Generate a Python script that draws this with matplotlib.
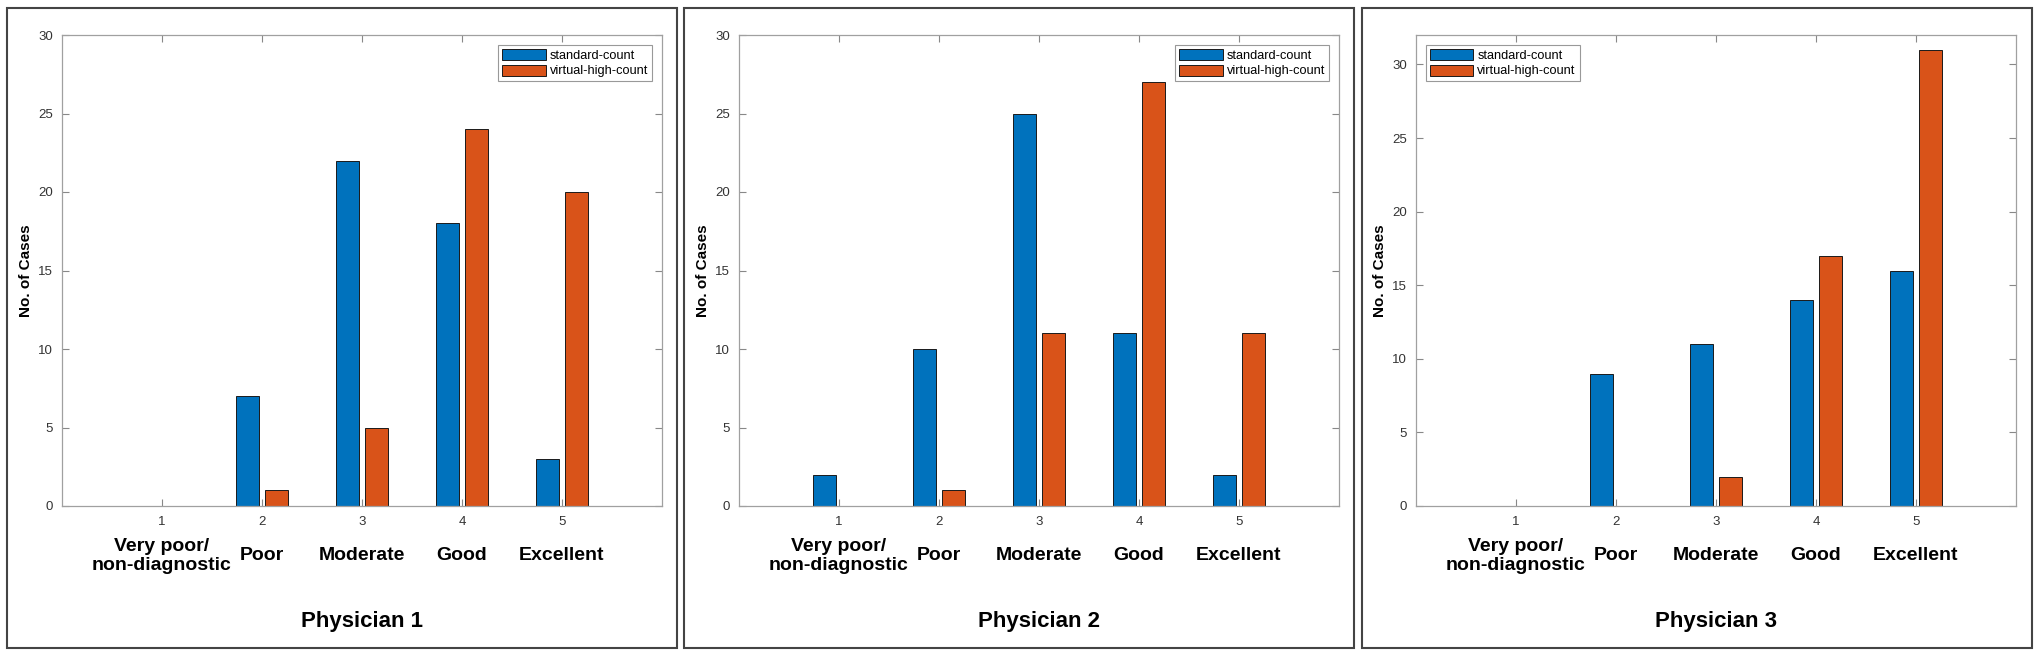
import matplotlib.pyplot as plt
import matplotlib.transforms as mtransforms
import numpy as np
from matplotlib.patches import Rectangle

# std = standard-count
# vhc = virtual-high-count

categories = ["Very poor/\nnon-diagnostic", "Poor", "Moderate", "Good", "Excellent"]
scores = [1, 2, 3, 4, 5]
physicians = ["Physician 1", "Physician 2", "Physician 3"]

std_1 = [0, 7, 22, 18, 3]
vhc_1 = [0, 1, 5, 24, 20]
std_2 = [2, 10, 25, 11, 2]
vhc_2 = [0, 1, 11, 27, 11]
std_3 = [0, 9, 11, 14, 16]
vhc_3 = [0, 0, 2, 17, 31]

y_max = [30, 30, 32]
legend_loc = ["upper right", "upper right", "upper left"]

blue = "#0072BD"
orange = "#D95319"

W, H = 2040, 659
plt.rcParams["font.family"] = ["Liberation Sans", "DejaVu Sans"]

# layout in pixels of the original picture
ax_left = [62, 739, 1416]
ax_top, ax_bottom, ax_w = 35, 506, 600
box_left = [7, 684, 1362]
box_w = 670
box_top, box_bottom = 8, 648


def draw_panel(fig, i, std, vhc):
    ax = fig.add_axes(
        [ax_left[i] / W, (H - ax_bottom) / H, ax_w / W, (ax_bottom - ax_top) / H]
    )
    x = np.array(scores)
    ax.bar(x - 0.145, std, width=0.23, color=blue, edgecolor="#1a1a1a",
           linewidth=0.7, label="standard-count")
    ax.bar(x + 0.145, vhc, width=0.23, color=orange, edgecolor="#1a1a1a",
           linewidth=0.7, label="virtual-high-count")
    ax.set_xlim(0, 6)
    ax.set_ylim(0, y_max[i])
    ax.set_xticks(scores)
    ax.set_yticks(range(0, 31, 5))
    ax.tick_params(direction="in", top=True, right=True, length=5, width=0.8,
                   color="#888888", labelsize=9.5, labelcolor="#333333")
    ax.tick_params(axis="x", pad=7.5)
    ax.tick_params(axis="y", pad=6.5)
    for s in ax.spines.values():
        s.set_color("#a0a0a0")
        s.set_linewidth(0.9)

    ax.set_ylabel("No. of Cases", fontsize=11, fontweight="bold")
    ax.yaxis.set_label_coords(-0.048, 0.5)

    trans = mtransforms.blended_transform_factory(ax.transData, fig.transFigure)
    for xi, cat in zip(scores, categories):
        ax.text(xi, (H - 556) / H, cat, transform=trans, ha="center", va="center",
                fontsize=14, fontweight="bold", linespacing=1.15)

    fig.text((ax_left[i] + ax_w / 2) / W, (H - 622) / H, physicians[i],
             ha="center", va="center", fontsize=16, fontweight="bold")

    leg = ax.legend(loc=legend_loc[i], fontsize=9.2, handlelength=3.4,
                    handleheight=0.95, handletextpad=0.3, labelspacing=0.2,
                    borderpad=0.3, borderaxespad=0.8, fancybox=False,
                    framealpha=1)
    leg.get_frame().set_edgecolor("#999999")
    leg.get_frame().set_linewidth(0.8)

    fig.patches.append(
        Rectangle((box_left[i] / W, (H - box_bottom) / H), box_w / W,
                  (box_bottom - box_top) / H, transform=fig.transFigure,
                  fill=False, edgecolor="#444444", linewidth=1.5)
    )
    return ax


fig = plt.figure(figsize=(W / 100, H / 100), dpi=100)
draw_panel(fig, 0, std_1, vhc_1)
draw_panel(fig, 1, std_2, vhc_2)
draw_panel(fig, 2, std_3, vhc_3)
fig.savefig("out.png", dpi=100, facecolor="white")
